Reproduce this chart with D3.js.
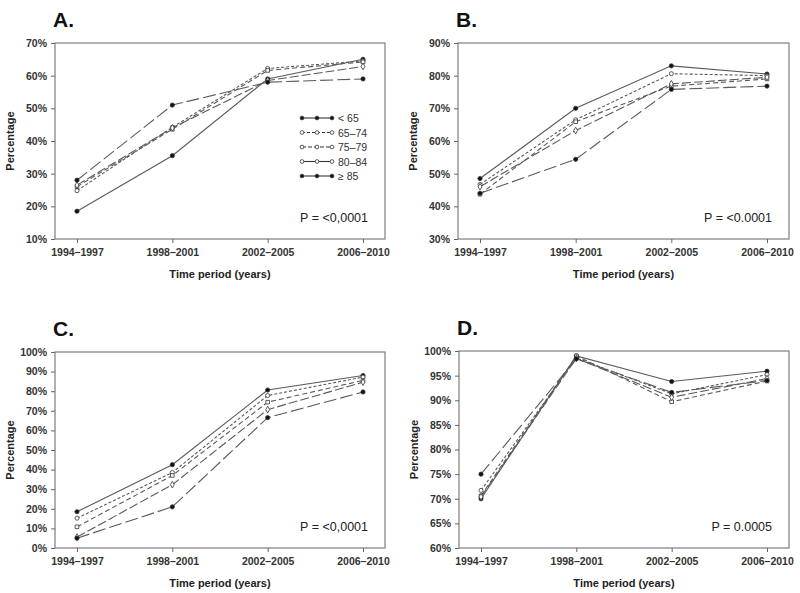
<!DOCTYPE html>
<html><head><meta charset="utf-8">
<script src="https://cdn.jsdelivr.net/npm/d3@7"></script>
<style>body{margin:0;background:#fff}svg{display:block}</style>
</head><body>
<script>
const categories = ["1994\u20131997","1998\u20132001","2002\u20132005","2006\u20132010"];
const seriesNames = ["< 65","65\u201374","75\u201379","80\u201384","\u2265 85"];

const panelA = [
  [18.5, 35.5, 59.0, 65.0],
  [24.8, 44.2, 62.2, 64.5],
  [26.0, 43.6, 61.6, 64.2],
  [26.5, 44.0, 58.5, 62.8],
  [28.0, 51.0, 58.0, 59.0]
];
const panelB = [
  [48.5, 70.0, 83.0, 80.5],
  [46.7, 66.5, 80.6, 80.0],
  [43.7, 65.9, 76.8, 79.0],
  [46.0, 63.2, 77.5, 79.5],
  [44.0, 54.4, 75.8, 76.8]
];
const panelC = [
  [18.5, 42.5, 80.6, 88.0],
  [15.2, 38.5, 77.8, 87.2],
  [10.8, 37.0, 74.4, 85.5],
  [5.6, 32.3, 70.6, 84.6],
  [5.0, 21.0, 66.5, 79.6]
];
const panelD = [
  [70.0, 99.0, 93.8, 95.9],
  [71.7, 98.6, 91.3, 95.2],
  [70.6, 99.0, 89.7, 93.9],
  [70.4, 98.5, 90.6, 94.4],
  [75.0, 98.4, 91.6, 94.0]
];

const yTicksA = [10,20,30,40,50,60,70];
const yTicksB = [30,40,50,60,70,80,90];
const yTicksC = [0,10,20,30,40,50,60,70,80,90,100];
const yTicksD = [60,65,70,75,80,85,90,95,100];

const pTextA = "P = <0,0001";
const pTextB = "P = <0.0001";
const pTextC = "P = <0,0001";
const pTextD = "P = 0.0005";

const dashes = [null, "3,2", "5,3", "9,3", "13,4"];
const filled = [true, false, false, false, true];
const shapes = [d3.symbolCircle, d3.symbolCircle, d3.symbolSquare, d3.symbolDiamond, d3.symbolCircle];

const W = 800, H = 593;
const svg = d3.select("body").append("svg").attr("width", W).attr("height", H)
  .style("font-family", "Liberation Sans, Arial, sans-serif");

function panel(cfg) {
  const g = svg.append("g");
  const {x0, x1, y0, y1, data, ticks, label, ptext, legend} = cfg;
  const x = d3.scalePoint().domain(categories).range([x0 + 22, x1 - 22]);
  const y = d3.scaleLinear().domain([ticks[0], ticks[ticks.length-1]]).range([y1, y0]);

  g.append("rect").attr("x", x0).attr("y", y0).attr("width", x1 - x0).attr("height", y1 - y0)
    .attr("fill", "none").attr("stroke", "#888").attr("stroke-width", 1.3);

  const ya = g.append("g").attr("transform", `translate(${x0},0)`)
    .call(d3.axisLeft(y).tickValues(ticks).tickSize(4).tickFormat(d => d + "%"));
  ya.select(".domain").remove();
  ya.selectAll("line").attr("stroke", "#666");
  ya.selectAll("text").attr("font-size", 10.5).attr("font-weight", "bold").attr("fill", "#333").attr("dx", -1);

  const xa = g.append("g").attr("transform", `translate(0,${y1})`)
    .call(d3.axisBottom(x).tickSize(4).tickPadding(6));
  xa.select(".domain").remove();
  xa.selectAll("line").attr("stroke", "#666");
  xa.selectAll("text").attr("font-size", 10.5).attr("font-weight", "bold").attr("fill", "#333");

  g.append("text").attr("x", (x0 + x1) / 2).attr("y", y1 + 39).attr("text-anchor", "middle")
    .attr("font-size", 11).attr("font-weight", "bold").attr("fill", "#222").text("Time period (years)");
  g.append("text").attr("transform", `translate(${x0 - 41},${(y0 + y1) / 2}) rotate(-90)`)
    .attr("text-anchor", "middle").attr("font-size", 11).attr("font-weight", "bold").attr("fill", "#222")
    .text("Percentage");
  g.append("text").attr("x", x0 - 2).attr("y", y0 - 16).attr("font-size", 21).attr("font-weight", "bold")
    .attr("fill", "#111").text(label);
  g.append("text").attr("x", x1 - 17).attr("y", y1 - 17).attr("text-anchor", "end")
    .attr("font-size", 12.5).attr("fill", "#222").text(ptext);

  const line = d3.line().x((d, i) => x(categories[i])).y(d => y(d));
  data.forEach((s, k) => {
    g.append("path").datum(s).attr("d", line).attr("fill", "none").attr("stroke", "#5a5a5a")
      .attr("stroke-width", 1.1).attr("stroke-dasharray", dashes[k]);
  });
  data.forEach((s, k) => {
    g.selectAll(null).data(s).enter().append("path")
      .attr("transform", (d, i) => `translate(${x(categories[i])},${y(d)})`)
      .attr("d", d3.symbol().type(shapes[k]).size(filled[k] ? 14 : 13))
      .attr("fill", filled[k] ? "#111" : "#fff").attr("stroke", "#333").attr("stroke-width", 0.8);
  });

  if (legend) {
    const lx = legend.x, ly = legend.y;
    seriesNames.forEach((nm, k) => {
      const yy = ly + k * 14.5;
      g.append("line").attr("x1", lx).attr("x2", lx + 30).attr("y1", yy).attr("y2", yy)
        .attr("stroke", "#333").attr("stroke-width", 1.1).attr("stroke-dasharray", k === 1 ? "3,2" : (k === 2 ? "4,2" : null));
      [0, 15, 30].forEach(dx => {
        g.append("path").attr("transform", `translate(${lx + dx},${yy})`)
          .attr("d", d3.symbol().type(d3.symbolCircle).size(11))
          .attr("fill", filled[k] ? "#111" : "#fff").attr("stroke", "#333").attr("stroke-width", 0.8);
      });
      g.append("text").attr("x", lx + 36).attr("y", yy + 4).attr("font-size", 10.5).attr("fill", "#333").text(nm);
    });
  }
}

panel({x0: 55, x1: 385, y0: 43, y1: 239, data: panelA, ticks: yTicksA, label: "A.", ptext: pTextA, legend: {x: 302, y: 118}});
panel({x0: 458, x1: 789, y0: 43, y1: 239, data: panelB, ticks: yTicksB, label: "B.", ptext: pTextB});
panel({x0: 55, x1: 385, y0: 352, y1: 548, data: panelC, ticks: yTicksC, label: "C.", ptext: pTextC});
panel({x0: 459, x1: 789, y0: 351, y1: 548, data: panelD, ticks: yTicksD, label: "D.", ptext: pTextD});
</script>
</body></html>
